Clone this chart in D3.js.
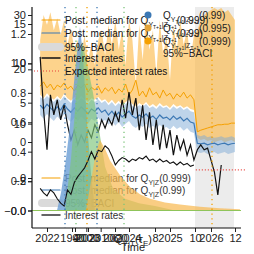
<!DOCTYPE html>
<html>
<head>
<meta charset="utf-8">
<script src="https://cdn.jsdelivr.net/npm/d3@7"></script>
<style>
  body { margin: 0; background: #fff; }
  svg { display: block; font-family: "Liberation Sans", Arial, sans-serif; }
</style>
</head>
<body>
<div id="chart"></div>
<script>
// ---- data (monthly, first month Nov 2021) ----
const startYear = 2021 + 10 / 12;
const forecastStart = 2025.61;
const forecastEnd = 2026.56;

// observed interest rates (%)
const rates = [22.3,12.5,5.2,15.3,11.6,14.4,10.7,13.4,9.8,7.0,
  8.8,6.1,7.9,6.6,8.8,7.4,9.8,8.5,10.7,9.2,
  11.0,9.8,12.1,10.3,14.4,11.0,15.8,11.6,14.7,8.8,
  13.4,7.0,12.1,6.1,10.7,5.2,9.8,5.5,8.8,4.2,
  7.9,5.2,7.0,4.2,6.1,3.3,5.2,6.1,5.2,5.5,
  3.3,1.1,-3.1,2.4];

// 95%-BACI and posterior median for Q(0.999)
const q999Hi = [25.4,30.0,28.2,30.5,27.2,29.4,26.3,29.1,24.5,27.6,
  23.6,25.4,22.6,26.3,21.7,24.5,20.8,25.4,27.2,22.6,
  28.2,24.5,29.1,23.6,27.2,20.8,29.1,25.4,17.1,28.2,
  21.7,30.0,23.6,27.2,19.0,29.1,22.6,26.3,18.0,28.2,
  23.6,29.1,24.5,27.2,21.7,26.3,
  27.2,29.1,30.0,30.5,30.9,31.3,30.9,31.3,30.5,30.9,30.0,29.1];
const q999Lo = [15.3,14.7,15.6,14.9,14.4,15.1,14.5,15.5,14.7,14.2,
  14.9,14.4,15.1,14.5,14.0,14.7,14.4,14.9,14.2,14.5,
  13.8,14.4,13.6,14.2,13.4,14.0,14.4,13.6,13.2,13.8,
  13.4,14.0,13.2,13.6,13.1,13.8,13.2,13.4,12.9,13.6,
  13.1,13.4,12.9,13.2,12.7,12.5,
  7.4,7.0,7.2,6.8,7.0,6.6,6.8,7.0,6.6,6.8,7.0,6.6];
const q999Med = [16.9,17.7,16.6,17.3,16.2,17.1,16.7,17.5,16.4,16.9,
  16.0,17.1,16.6,17.3,15.8,16.7,16.2,16.9,15.6,16.6,
  16.0,16.7,15.5,16.4,15.8,17.3,15.3,16.2,18.0,15.1,
  16.0,14.9,16.6,15.3,15.8,14.7,16.2,15.1,15.6,14.5,
  15.5,14.9,15.8,14.7,15.3,14.4,
  8.5,8.8,9.0,9.2,9.4,9.6,9.8,9.8,9.9,9.9,10.1,10.1];

// 95%-BACI and posterior median for Q(0.99)
const q99Hi = [14.9,14.4,15.1,14.5,14.0,14.7,14.2,15.1,14.4,13.8,
  14.5,14.0,14.7,14.2,13.6,14.4,14.0,14.5,13.8,14.2,
  13.4,14.0,13.2,13.8,13.1,13.6,14.0,13.2,12.9,13.4,
  13.1,13.6,12.9,13.2,12.7,13.4,12.9,13.1,12.5,13.2,
  12.7,13.1,12.5,12.9,12.3,12.1,
  7.9,7.7,7.9,7.5,7.7,7.4,7.5,7.7,7.4,7.5,7.7,7.4];
const q99Med = [13.4,12.7,13.6,12.9,12.3,13.1,12.5,13.6,12.7,12.1,
  12.9,12.3,13.1,12.5,11.8,12.7,12.3,12.9,12.1,12.5,
  11.6,12.3,11.4,12.1,11.2,11.8,12.3,11.4,11.0,11.6,
  11.2,11.8,11.0,11.4,10.8,11.6,11.0,11.2,10.7,11.4,
  10.8,11.2,10.5,11.0,10.3,10.1,
  6.4,6.3,6.4,6.1,6.3,6.4,6.1,6.3,6.4,6.1,6.3,6.4];
const q99Lo = [11.6,10.9,11.8,11.1,10.5,11.3,10.7,11.8,10.9,10.3,
  11.1,10.5,11.3,10.7,10.0,10.9,10.5,11.1,10.3,10.7,
  9.8,10.5,9.6,10.3,9.4,10.0,10.5,9.6,9.2,9.8,
  9.4,10.0,9.2,9.6,9.0,9.8,9.2,9.4,8.9,9.6,
  9.0,9.4,8.7,9.2,8.5,8.3,
  4.8,4.6,4.8,4.4,4.6,4.8,4.4,4.6,4.8,4.4,4.6,4.8];

// expected interest rate over the forecast window
const expectedYears = [2025.63, 2026.85];
const expectedRate = [1.5, 1.5];

// lower panel interest rates (rescaled)
const ratesLow = [0.15,0.12,0.10,0.14,0.12,0.08,0.05,0.03,0.14,0.11,
  0.19,0.23,0.26,0.29,0.34,0.40,0.35,0.41,0.40,0.44,
  0.42,0.37,0.31,0.34,0.36,0.35,0.33,0.35,0.34,0.36,
  0.35,0.37,0.34,0.35,0.33,0.35,0.33,0.34,0.32,0.33,
  0.31,0.33,0.31,0.32,0.30,0.31];

// posterior densities of Q_{Y|T}(tau_E)
const blueQ = [3.1,3.3,3.5,3.7,3.9,4.1,4.25,4.4,4.6,4.8,5.0];
const blueD = [0,0.12,0.3,0.52,0.8,1.08,1.25,1.05,0.6,0.25,0];
const greenQ = [3.5,3.8,4.1,4.35,4.6,4.9,5.2,5.5,5.9,6.5,7.2,8.0,9.0];
const greenD = [0,0.35,0.85,1.15,1.0,0.8,0.55,0.3,0.15,0.08,0.05,0.03,0];
const orangeQ = [4.55,4.8,5.05,5.25,5.5,5.75,6.25,6.75,7.25,7.75,8.5,9.25,10.25,11.25,12.25];
const orangeD = [0,0.2,0.4,0.48,0.42,0.34,0.24,0.16,0.11,0.08,0.055,0.04,0.025,0.015,0.008];

// quantile markers
const blueMarks = [3.5, 5.1];
const orangeMarks = [4.6, 10.85];
const greenMarks = [4.05, 6.45];

// ticks
const yearTicks = [2022, 2023, 2024, 2025, 2026];
const oldYearTicks = [1990, 2000, 2010, 2020];
const qTicks = [4, 6, 8, 10, 12];
const ticksA = [0, 0.2, 0.4, 0.6, 0.8, 1.0, 1.2];
const ticksB = [-5, 0, 5, 10, 15];
const ticksC = [0, 10, 20, 30];

const C = {
  orange: "#f5a000", orangeFill: "#fbb540",
  blue: "#3c78b4", blueFill: "#7ea9d6",
  green: "#7cc47a", grey: "#dadada"
};

const W = 254, H = 254;
const plot = { left: 32, right: 241, top: 7, bottom: 228 };

const svg = d3.select("#chart").append("svg")
  .attr("width", W)
  .attr("height", H);

// scales
const xT = d3.scaleLinear().domain([2022, 2026]).range([47, 211]);
const xOld = d3.scaleLinear().domain([1990, 2020]).range([72, 115]);
const xQ = d3.scaleLinear().domain([2, 12]).range([35, 235]);
const yA = d3.scaleLinear().domain([0, 1.2]).range([210.5, 34]);
const yB = d3.scaleLinear().domain([0, 15]).range([142, 24]);
const yC = d3.scaleLinear().domain([0, 30]).range([178, 15]);

const month = i => startYear + i / 12;

// forecast shading
svg.append("rect")
  .attr("x", xT(forecastStart))
  .attr("y", plot.top)
  .attr("width", xT(forecastEnd) - xT(forecastStart))
  .attr("height", plot.bottom - plot.top)
  .attr("fill", "#ececec");

// bands
const band = (lo, hi) => d3.area()
  .x(i => xT(month(i)))
  .y0(i => yC(lo[i]))
  .y1(i => yC(hi[i]))(d3.range(lo.length));

svg.append("path").attr("d", band(q999Lo, q999Hi))
  .attr("fill", C.orangeFill).attr("opacity", 0.6);
svg.append("path").attr("d", band(q99Lo, q99Hi))
  .attr("fill", C.blueFill).attr("opacity", 0.5);

const line = arr => d3.line()
  .x((d, i) => xT(month(i)))
  .y(d => yC(d))(arr);

svg.append("path").attr("d", line(q999Med))
  .attr("fill", "none").attr("stroke", C.orange).attr("stroke-width", 1);
svg.append("path").attr("d", line(q99Med))
  .attr("fill", "none").attr("stroke", C.blue).attr("stroke-width", 1.2);
svg.append("path").attr("d", line(rates))
  .attr("fill", "none").attr("stroke", "#111").attr("stroke-width", 1.2);

// expected interest rates
svg.append("path")
  .attr("d", d3.line().x((d, i) => xT(expectedYears[i])).y(d => yC(d))(expectedRate))
  .attr("fill", "none").attr("stroke", "#e8403a").attr("stroke-width", 1.1)
  .attr("stroke-dasharray", "1,2");

// rich text helper (subscripts)
function rich(sel, parts) {
  let off = 0;
  parts.forEach(([str, size, shift]) => {
    sel.append("tspan").attr("font-size", size).attr("dy", shift - off).text(str);
    off = shift;
  });
}
const subTZ = [["Y", 7, 3], ["T+1", 5, 5], ["|Z", 7, 3], ["T+1", 5, 5]];

// bottom legend (sits under the densities)
const leg3 = svg.append("g");
const leg3Rows = [
  { y: 178, color: C.orange, w: 1.2, parts: [["Post. median for Q", 10, 0], ["Y|Z", 7, 3], ["(0.999)", 10, 0]] },
  { y: 190, color: C.blue, w: 1.2, parts: [["Post. median for Q", 10, 0], ["Y|Z", 7, 3], ["(0.99)", 10, 0]] },
  { y: 203, color: C.grey, w: 8, parts: [["95%−BACI", 10, 0]] },
  { y: 215, color: "#333", w: 1.5, parts: [["Interest rates", 10, 0]] }
];
leg3Rows.forEach(r => {
  leg3.append("line").attr("x1", 42).attr("x2", 60).attr("y1", r.y).attr("y2", r.y)
    .attr("stroke", r.color).attr("stroke-width", r.w).attr("stroke-linecap", "round");
  rich(leg3.append("text").attr("x", 65).attr("y", r.y + 3.5).attr("fill", "#333"), r.parts);
});

// densities
const dens = (qs, ds) => d3.area()
  .x(i => xQ(qs[i]))
  .y0(yA(0))
  .y1(i => yA(ds[i]))(d3.range(qs.length));

svg.append("path").attr("d", dens(blueQ, blueD)).attr("fill", "#6a9ed4").attr("opacity", 0.8);
svg.append("path").attr("d", dens(greenQ, greenD)).attr("fill", C.green).attr("opacity", 0.65);
svg.append("path").attr("d", dens(orangeQ, orangeD)).attr("fill", "#f8b84e").attr("opacity", 0.7);

// lower-panel interest rates
svg.append("path")
  .attr("d", d3.line().x((d, i) => xT(month(i))).y(d => yA(d))(ratesLow))
  .attr("fill", "none").attr("stroke", "#111").attr("stroke-width", 1.1);

// quantile markers
[[blueMarks, C.blue], [orangeMarks, C.orange], [greenMarks, C.green]].forEach(([marks, col]) => {
  svg.selectAll(null).data(marks).join("line")
    .attr("x1", d => xQ(d)).attr("x2", d => xQ(d))
    .attr("y1", plot.top).attr("y2", plot.bottom)
    .attr("stroke", col).attr("stroke-width", 1.3)
    .attr("stroke-dasharray", "1.3,3.5");
});

// density baseline
svg.append("line")
  .attr("x1", plot.left).attr("x2", plot.right)
  .attr("y1", yA(0)).attr("y2", yA(0))
  .attr("stroke", "#8fc45a").attr("stroke-width", 1.2);

// axes
function styleAxis(g) {
  g.select(".domain").remove();
  g.selectAll(".tick line").attr("stroke", "#222");
  g.selectAll(".tick text").attr("fill", "#222")
    .style("font-size", "11px").style("font-family", '"Liberation Sans", Arial, sans-serif');
}
const left = svg.append("g").attr("transform", `translate(${plot.left},0)`);
left.append("g").call(d3.axisLeft(yA).tickValues(ticksA).tickFormat(d3.format(".1f")).tickSize(4).tickPadding(2)).call(styleAxis);
left.append("g").call(d3.axisLeft(yA).tickValues([0]).tickFormat(() => "−0.0").tickSize(4).tickPadding(2)).call(styleAxis);
left.append("g").call(d3.axisLeft(yB).tickValues(ticksB).tickFormat(d3.format("d")).tickSize(4).tickPadding(2)).call(styleAxis);
left.append("g").call(d3.axisLeft(yC).tickValues(ticksC).tickFormat(d3.format("d")).tickSize(4).tickPadding(2)).call(styleAxis);

const bottom = svg.append("g").attr("transform", `translate(0,${plot.bottom})`);
bottom.append("g").call(d3.axisBottom(xT).tickValues(yearTicks).tickFormat(d3.format("d")).tickSize(4).tickPadding(2)).call(styleAxis);
bottom.append("g").call(d3.axisBottom(xOld).tickValues(oldYearTicks).tickFormat(d3.format("d")).tickSize(4).tickPadding(2)).call(styleAxis);
bottom.append("g").call(d3.axisBottom(xQ).tickValues(qTicks).tickFormat(d3.format("d")).tickSize(4).tickPadding(2)).call(styleAxis);

// spines
svg.append("line").attr("x1", plot.left).attr("x2", plot.left)
  .attr("y1", plot.top).attr("y2", plot.bottom).attr("stroke", "#111").attr("stroke-width", 1.2);
svg.append("line").attr("x1", plot.left).attr("x2", plot.right)
  .attr("y1", plot.bottom).attr("y2", plot.bottom).attr("stroke", "#111").attr("stroke-width", 1.2);

// axis titles
rich(svg.append("text").attr("x", 133).attr("y", 243).attr("text-anchor", "middle").attr("fill", "#222"),
  [["Q", 11, 0], ["Y|T", 8, 3], ["(τ", 11, 0], ["E", 8, 3], [")", 11, 0]]);
svg.append("text").attr("x", 133).attr("y", 251).attr("text-anchor", "middle")
  .attr("fill", "#222").style("font-size", "11px").text("Time");

// top-left legend
const leg1 = svg.append("g");
const leg1Rows = [
  { y: 20, color: C.orange, w: 1.2, parts: [["Post. median for Q", 10, 0], ...subTZ, ["(0.999)", 10, 0]] },
  { y: 33, color: C.blue, w: 1.2, parts: [["Post. median for Q", 10, 0], ...subTZ, ["(0.99)", 10, 0]] },
  { y: 47, color: C.grey, w: 8, parts: [["95%−BACI", 10, 0]] },
  { y: 58, color: "#111", w: 1.5, parts: [["Interest rates", 10, 0]] },
  { y: 71, color: "#e8403a", w: 1.1, dash: "1,2", x1: 34, parts: [["Expected interest rates", 10, 0]] }
];
leg1Rows.forEach(r => {
  leg1.append("line").attr("x1", r.x1 || 42).attr("x2", 60).attr("y1", r.y).attr("y2", r.y)
    .attr("stroke", r.color).attr("stroke-width", r.w)
    .attr("stroke-linecap", r.dash ? "butt" : "round")
    .attr("stroke-dasharray", r.dash || null);
  rich(leg1.append("text").attr("x", 65).attr("y", r.y + 3.5).attr("fill", "#111"), r.parts);
});

// top-right legend
const leg2 = svg.append("g");
const leg2Rows = [
  { y: 15, color: C.blue, label: "(0.99)" },
  { y: 28, color: "#e3a33a", label: "(0.995)" },
  { y: 41, color: C.orange, label: "(0.999)" }
];
leg2Rows.forEach(r => {
  leg2.append("circle").attr("cx", 148).attr("cy", r.y).attr("r", 3.5).attr("fill", r.color);
  rich(leg2.append("text").attr("x", 163).attr("y", r.y + 3.5).attr("fill", "#222"),
    [["Q", 10, 0], ...subTZ, [r.label, 10, 0]]);
});
leg2.append("text").attr("x", 163).attr("y", 57).attr("fill", "#222")
  .style("font-size", "10px").text("95%−BACI");
</script>
</body>
</html>
